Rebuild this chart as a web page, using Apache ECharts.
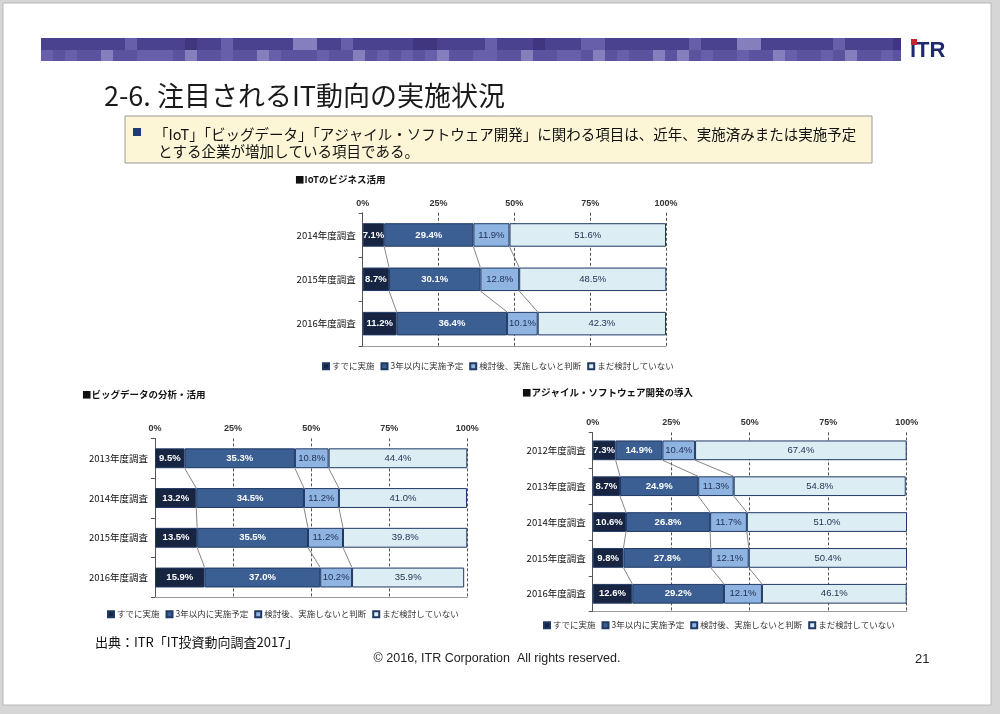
<!DOCTYPE html>
<html>
<head>
<meta charset="utf-8">
<script src="https://cdn.jsdelivr.net/npm/echarts@6/dist/echarts.min.js"></script>
<style>
html, body { margin: 0; padding: 0; background: #fff; }
#main { width: 1000px; height: 714px; }
</style>
</head>
<body>
<div id="main"></div>
<script>
// 凡例・目盛
const legendNames = ['すでに実施', '3年以内に実施予定', '検討後、実施しないと判断', 'まだ検討していない'];
const tickLabels = ['0%', '25%', '50%', '75%', '100%'];

// IoTのビジネス活用
const iotYears = ['2014年度調査', '2015年度調査', '2016年度調査'];
const iotDone = [7.1, 8.7, 11.2];
const iotPlan = [29.4, 30.1, 36.4];
const iotNo = [11.9, 12.8, 10.1];
const iotNot = [51.6, 48.5, 42.3];

// ビッグデータの分析・活用
const bigYears = ['2013年度調査', '2014年度調査', '2015年度調査', '2016年度調査'];
const bigDone = [9.5, 13.2, 13.5, 15.9];
const bigPlan = [35.3, 34.5, 35.5, 37.0];
const bigNo = [10.8, 11.2, 11.2, 10.2];
const bigNot = [44.4, 41.0, 39.8, 35.9];

// アジャイル・ソフトウェア開発の導入
const agiYears = ['2012年度調査', '2013年度調査', '2014年度調査', '2015年度調査', '2016年度調査'];
const agiDone = [7.3, 8.7, 10.6, 9.8, 12.6];
const agiPlan = [14.9, 24.9, 26.8, 27.8, 29.2];
const agiNo = [10.4, 11.3, 11.7, 12.1, 12.1];
const agiNot = [67.4, 54.8, 51.0, 50.4, 46.1];

const colors = ['#172442', '#3b5f92', '#8fb4e2', '#dcedf4'];
const jp = 'Noto Sans CJK JP';

// 各グラフの配置
const charts = [
    { title: '■IoTのビジネス活用', tx: 295, ty: 175, years: iotYears, sets: [iotDone, iotPlan, iotNo, iotNot],
      grid: { left: 362.7, top: 212.8, width: 303.3, height: 133 }, bar: 0.53, lx: 322, ly: 362 },
    { title: '■ビッグデータの分析・活用', tx: 82, ty: 390, years: bigYears, sets: [bigDone, bigPlan, bigNo, bigNot],
      grid: { left: 155, top: 438.4, width: 312.3, height: 159 }, bar: 0.5, lx: 107, ly: 610 },
    { title: '■アジャイル・ソフトウェア開発の導入', tx: 522, ty: 388, years: agiYears, sets: [agiDone, agiPlan, agiNo, agiNot],
      grid: { left: 592.7, top: 432.4, width: 314, height: 179.3 }, bar: 0.55, lx: 543, ly: 621 }
];

let grids = [], xAxes = [], yAxes = [], series = [], legends = [], titles = [];

charts.forEach(function (c, idx) {
    grids.push(c.grid);
    titles.push({ text: c.title, left: c.tx, top: c.ty, padding: 0,
        textStyle: { fontSize: 9.5, fontWeight: 'bold', color: '#111', fontFamily: jp } });
    xAxes.push({
        gridIndex: idx, type: 'value', position: 'top', min: 0, max: 100, interval: 25,
        axisLine: { show: false }, axisTick: { show: false },
        axisLabel: { formatter: v => tickLabels[v / 25], fontSize: 9, color: '#333', fontWeight: 'bold',
            fontFamily: 'Liberation Sans', margin: 5 },
        splitLine: { show: true, lineStyle: { type: [3, 2], color: '#555', width: 1 } }
    });
    xAxes.push({
        gridIndex: idx, type: 'value', position: 'bottom', min: 0, max: 100,
        axisLine: { show: true, lineStyle: { color: '#9a9a9a' } },
        axisTick: { show: false }, axisLabel: { show: false }, splitLine: { show: false }
    });
    yAxes.push({
        gridIndex: idx, type: 'category', data: c.years, inverse: true,
        axisLine: { show: true, lineStyle: { color: '#555' } },
        axisTick: { show: true, length: 4, lineStyle: { color: '#555' } },
        axisLabel: { fontSize: 9.5, color: '#111', margin: 7, fontFamily: jp }
    });
    legendNames.forEach(function (name, k) {
        series.push({
            name: name, type: 'bar', stack: 'st' + idx, xAxisIndex: idx * 2, yAxisIndex: idx,
            data: c.sets[k], barWidth: (c.bar * 100) + '%', z: 3,
            itemStyle: { color: colors[k], borderColor: '#1f3864', borderWidth: 1 },
            label: {
                show: true, position: 'inside', formatter: p => p.value.toFixed(1) + '%',
                color: k < 2 ? '#fff' : '#1f2f50', fontSize: 9.5, fontWeight: k < 2 ? 'bold' : 'normal',
                fontFamily: 'Liberation Sans'
            }
        });
    });
    // 区分線（棒の境界をつなぐ線）
    let links = [];
    for (let i = 0; i < c.years.length - 1; i++) {
        let a = 0, b = 0;
        for (let k = 0; k < 3; k++) {
            a += c.sets[k][i];
            b += c.sets[k][i + 1];
            links.push([a, i, b, i + 1]);
        }
    }
    series.push({
        type: 'custom', xAxisIndex: idx * 2, yAxisIndex: idx, silent: true, z: 2,
        data: links,
        renderItem: function (params, api) {
            const p1 = api.coord([api.value(0), api.value(1)]);
            const p2 = api.coord([api.value(2), api.value(3)]);
            const h = api.size([0, 1])[1] * c.bar / 2;
            return { type: 'line', shape: { x1: p1[0], y1: p1[1] + h, x2: p2[0], y2: p2[1] - h },
                style: { stroke: '#666', lineWidth: 0.8 } };
        }
    });
    legends.push({
        data: legendNames, left: c.lx, top: c.ly, padding: 0, itemWidth: 6, itemHeight: 6, itemGap: 6,
        icon: 'rect', selectedMode: false,
        textStyle: { fontSize: 8.5, color: '#333', fontFamily: jp, padding: [0, 0, 0, -2] }
    });
});

// ヘッダーのモザイク帯
const mosaicTop = '000000010000300100000220010000033000010003000110000000100022000000100003';
const mosaicBottom = '101002001110200100210001002010101200110020011020100202010010021001020010';
const shade = { '1': '#675fa9', '2': '#857fbd', '3': '#3f367f' };
let band = [
    { type: 'rect', shape: { x: 41, y: 38, width: 860, height: 12 }, style: { fill: '#4b428f' } },
    { type: 'rect', shape: { x: 41, y: 50, width: 860, height: 11 }, style: { fill: '#5c539e' } }
];
[mosaicTop, mosaicBottom].forEach(function (row, r) {
    for (let i = 0; i < row.length; i++) {
        const ch = row.charAt(i);
        if (ch === '0') continue;
        const w = Math.min(12, 901 - (41 + i * 12));
        if (w <= 0) continue;
        band.push({ type: 'rect', shape: { x: 41 + i * 12, y: r ? 50 : 38, width: w, height: r ? 11 : 12 },
            style: { fill: shade[ch] } });
    }
});

const graphics = [
    { type: 'rect', shape: { x: 0, y: 0, width: 1000, height: 714 }, style: { fill: '#d6d6d6' } },
    { type: 'rect', shape: { x: 3, y: 3, width: 988, height: 702 }, style: { fill: '#ffffff', stroke: '#b8b8b8', lineWidth: 1 } }
].concat(band).concat([
    { type: 'text', x: 910, y: 51, style: { text: 'iTR', fontSize: 22, fontWeight: 'bold', fontFamily: 'Liberation Sans',
        fill: '#1f2a6e', textVerticalAlign: 'middle' } },
    { type: 'rect', shape: { x: 911, y: 39, width: 6, height: 6 }, style: { fill: '#c3262e' } },
    { type: 'text', x: 104, y: 96, style: { text: '2-6. 注目されるIT動向の実施状況', fontSize: 27, fontFamily: jp,
        fill: '#1a1a1a', textVerticalAlign: 'middle' } },
    { type: 'rect', shape: { x: 125, y: 116, width: 747, height: 47 }, style: { fill: '#fcf6d6', stroke: '#9a9a9a', lineWidth: 1 } },
    { type: 'rect', shape: { x: 133, y: 128, width: 8, height: 8 }, style: { fill: '#1f3a7a' } },
    { type: 'text', x: 154, y: 134, style: { text: '「IoT」「ビッグデータ」「アジャイル・ソフトウェア開発」に関わる項目は、近年、実施済みまたは実施予定',
        fontSize: 14.5, fontFamily: jp, fill: '#111', textVerticalAlign: 'middle' } },
    { type: 'text', x: 158, y: 151, style: { text: 'とする企業が増加している項目である。',
        fontSize: 14.5, fontFamily: jp, fill: '#111', textVerticalAlign: 'middle' } },
    { type: 'text', x: 95, y: 642, style: { text: '出典：ITR「IT投資動向調査2017」', fontSize: 13, fontFamily: jp,
        fill: '#111', textVerticalAlign: 'middle' } },
    { type: 'text', x: 497, y: 659, style: { text: '© 2016, ITR Corporation  All rights reserved.', fontSize: 12.5,
        fontFamily: 'Liberation Sans', fill: '#222', textAlign: 'center', textVerticalAlign: 'middle' } },
    { type: 'text', x: 915, y: 659, style: { text: '21', fontSize: 13, fontFamily: 'Liberation Sans',
        fill: '#222', textVerticalAlign: 'middle' } }
]);

let option = {
    animation: false,
    backgroundColor: '#fff',
    title: titles,
    grid: grids,
    xAxis: xAxes,
    yAxis: yAxes,
    legend: legends,
    series: series,
    graphic: { elements: graphics }
};

let myChart = echarts.init(document.getElementById('main'));
myChart.setOption(option);
</script>
</body>
</html>
